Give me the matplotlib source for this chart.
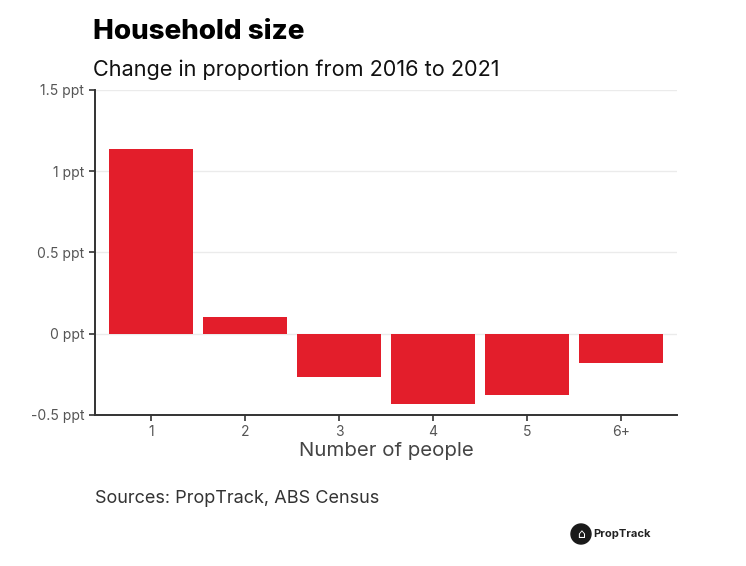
import matplotlib.pyplot as plt
import matplotlib.patches as mpatches

# Data
categories = ['1', '2', '3', '4', '5', '6+']
change_ppt = [1.135, 0.105, -0.265, -0.43, -0.38, -0.18]
y_ticks = [-0.5, 0, 0.5, 1, 1.5]
y_labels = ['-0.5 ppt', '0 ppt', '0.5 ppt', '1 ppt', '1.5 ppt']

plt.rcParams['font.family'] = ['Inter', 'DejaVu Sans']

fig = plt.figure(figsize=(7.46, 5.66), dpi=100)
ax = fig.add_axes([0.127, 0.267, 0.781, 0.574])

x = range(len(categories))
ax.bar(x, change_ppt, width=0.89, color='#e31e2b', zorder=3)

ax.set_xlim(-0.6, len(categories) - 0.4)
ax.set_ylim(-0.5, 1.5)
ax.set_yticks(y_ticks)
ax.set_yticklabels(y_labels)
ax.set_xticks(list(x))
ax.set_xticklabels(categories)
ax.tick_params(axis='both', colors='#333333', labelcolor='#555555',
               labelsize=10, length=4, width=1.2)
ax.grid(axis='y', color='#ebebeb', linewidth=1, zorder=0)

for side in ['top', 'right']:
    ax.spines[side].set_visible(False)
for side in ['left', 'bottom']:
    ax.spines[side].set_color('#333333')
    ax.spines[side].set_linewidth(1.4)

ax.set_xlabel('Number of people', fontsize=14.7, color='#444444', labelpad=2)

fig.text(0.125, 0.943, 'Household size', fontsize=20, fontweight='heavy',
         color='black', va='center')
fig.text(0.125, 0.876, 'Change in proportion from 2016 to 2021', fontsize=15.6,
         color='#111111', va='center')
fig.text(0.127, 0.12, 'Sources: PropTrack, ABS Census', fontsize=13,
         color='#333333', va='center')

# PropTrack logo
cx, cy = 581 / 746, 1 - 534 / 566
logo = mpatches.Ellipse((cx, cy), 20 / 746, 20 / 566, transform=fig.transFigure,
                        color='#1a1a1a')
fig.patches.append(logo)
fig.text(cx, cy, '⌂', fontsize=9, color='white', ha='center', va='center',
         family='DejaVu Sans')
fig.text(593 / 746, cy, 'PropTrack', fontsize=8, fontweight='bold',
         color='#222222', va='center')

plt.savefig('out.png', dpi=100)
